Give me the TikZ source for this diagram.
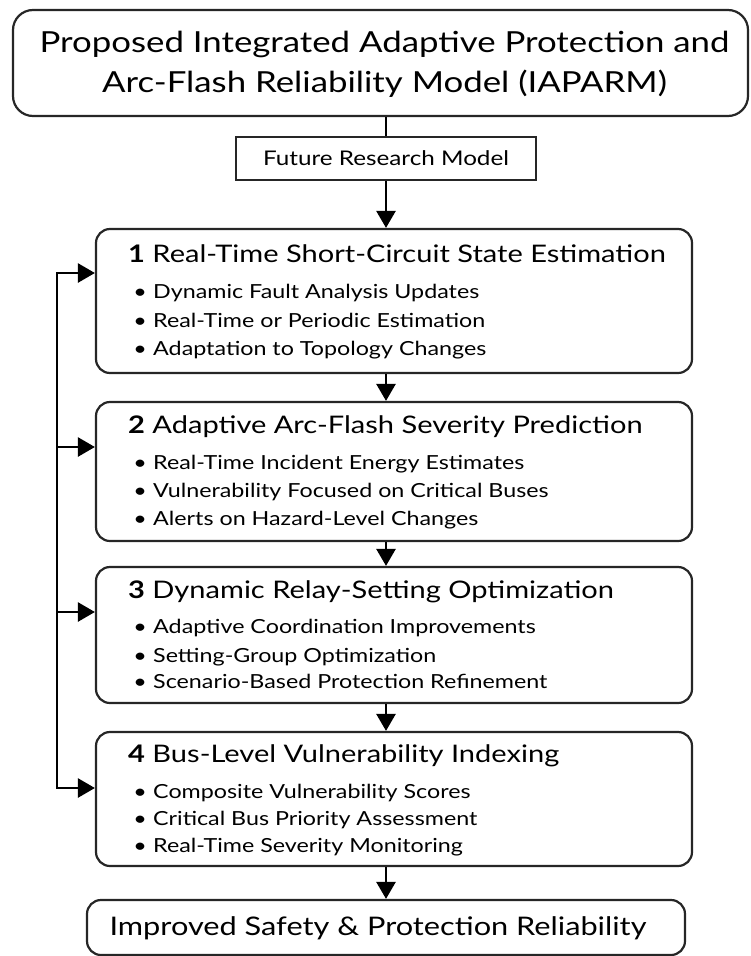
\documentclass[tikz,border=0pt]{standalone}
\usepackage{fontspec}
\setmainfont{Lato}[FakeStretch=1.2]
\usetikzlibrary{arrows.meta}
\newcommand{\bulletmark}{\makebox[0pt][c]{•}\hspace{13pt}}
\begin{document}
\begin{tikzpicture}[x=1pt,y=-1pt,
  box/.style={draw=black!85, line width=2.2pt, rounded corners=14pt, inner sep=0pt, fill=white},
  ttl/.style={anchor=base west, inner sep=0pt, font=\fontsize{24.2}{28}\selectfont},
  bul/.style={anchor=base west, inner sep=0pt, font=\fontsize{19.4}{22}\selectfont},
  arr/.style={draw=black, line width=2.6pt, -{Triangle[length=17pt,width=19pt]}},
  ln/.style={draw=black, line width=2.6pt}
]
\useasboundingbox (0,0) rectangle (750,956);
% boxes
\node[box, rounded corners=20pt, minimum width=735pt, minimum height=106pt] (top) at (380.5,63) {};
\node[box, rounded corners=0pt, minimum width=300pt, minimum height=43pt,
  font=\fontsize{20.2}{24}\selectfont] (future) at (386,158.5) {Future Research Model};
\node[box, minimum width=596pt, minimum height=144pt] (b1) at (394,301) {};
\node[box, minimum width=596pt, minimum height=139pt] (b2) at (394,471.5) {};
\node[box, minimum width=596pt, minimum height=136pt] (b3) at (394,635) {};
\node[box, minimum width=596pt, minimum height=134pt] (b4) at (394,799) {};
\node[box, minimum width=598pt, minimum height=55pt] (fin) at (386,927.5) {};
% top texts
\node[anchor=base, inner sep=0pt, font=\fontsize{29}{34}\selectfont] (tp1) at (384.5,52) {Proposed Integrated Adaptive Protection and};
\node[anchor=base, inner sep=0pt, font=\fontsize{29}{34}\selectfont] (tp2) at (384.5,92) {Arc-Flash Reliability Model (IAPARM)};
\node[anchor=base, inner sep=0pt, font=\fontsize{25.6}{30}\selectfont] (fint) at (378,935) {Improved Safety \& Protection Reliability};
% box texts
\node[ttl] (t1) at (128,262) {\textbf{1} Real-Time Short-Circuit State Estimation};
\node[bul] (t1a) at (140,298) {\bulletmark Dynamic Fault Analysis Updates};
\node[bul] (t1b) at (140,327) {\bulletmark Real-Time or Periodic Estimation};
\node[bul] (t1c) at (140,355) {\bulletmark Adaptation to Topology Changes};
\node[ttl] (t2) at (128,433) {\textbf{2} Adaptive Arc-Flash Severity Prediction};
\node[bul] (t2a) at (140,469) {\bulletmark Real-Time Incident Energy Estimates};
\node[bul] (t2b) at (140,497) {\bulletmark Vulnerability Focused on Critical Buses};
\node[bul] (t2c) at (140,525) {\bulletmark Alerts on Hazard-Level Changes};
\node[ttl] (t3) at (128,598) {\textbf{3} Dynamic Relay-Setting Optimization};
\node[bul] (t3a) at (140,633) {\bulletmark Adaptive Coordination Improvements};
\node[bul] (t3b) at (140,662) {\bulletmark Setting-Group Optimization};
\node[bul] (t3c) at (140,688) {\bulletmark Scenario-Based Protection Refinement};
\node[ttl] (t4) at (128,762) {\textbf{4} Bus-Level Vulnerability Indexing};
\node[bul] (t4a) at (140,798) {\bulletmark Composite Vulnerability Scores};
\node[bul] (t4b) at (140,825) {\bulletmark Critical Bus Priority Assessment};
\node[bul] (t4c) at (140,852) {\bulletmark Real-Time Severity Monitoring};
% vertical connectors
\draw[ln] (top.south -| future.north) -- (future.north);
\draw[arr] (future.south) -- (future.south |- b1.north);
\draw[arr] (b1.south -| future.south) -- (future.south |- b2.north);
\draw[arr] (b2.south -| future.south) -- (future.south |- b3.north);
\draw[arr] (b3.south -| future.south) -- (future.south |- b4.north);
\draw[arr] (b4.south -| future.south) -- (future.south |- fin.north);
% feedback line
\coordinate (f1) at (57,273);
\coordinate (f2) at (57,447);
\coordinate (f3) at (57,612);
\coordinate (f4) at (57,788);
\draw[ln, line cap=rect] (f1) -- (f4);
\draw[arr] (f1) -- (b1.west |- f1);
\draw[arr] (f2) -- (b2.west |- f2);
\draw[arr] (f3) -- (b3.west |- f3);
\draw[arr] (f4) -- (b4.west |- f4);
\end{tikzpicture}
\end{document}
